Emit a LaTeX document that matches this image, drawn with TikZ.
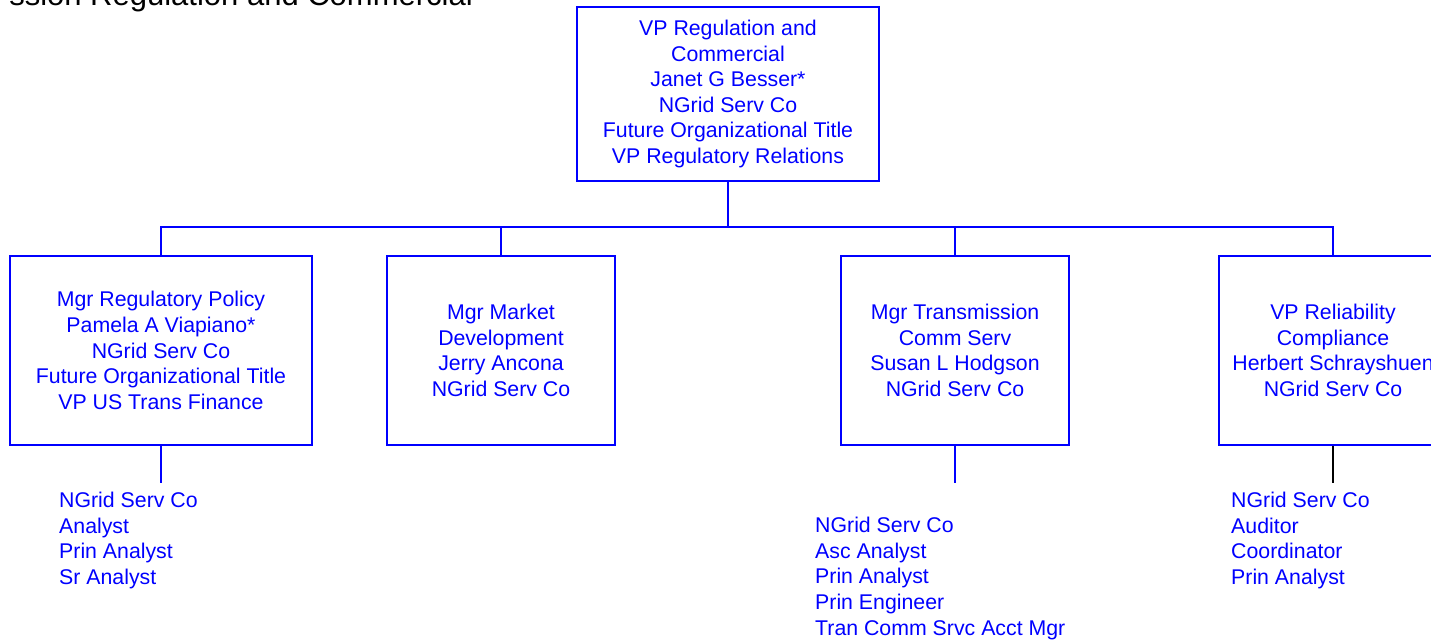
\documentclass[tikz,border=0pt]{standalone}
\usepackage{fontspec}
\setmainfont{Liberation Sans}
\definecolor{orgblue}{RGB}{0,0,255}
\begin{document}
\begin{tikzpicture}[x=1pt,y=-1pt,
  box/.style={rectangle, draw=orgblue, line width=1.8pt, text=orgblue, align=center, inner sep=0pt,
    font=\fontsize{21.3}{25.6}\selectfont},
  list/.style={text=orgblue, align=left, inner sep=0pt, anchor=north west,
    font=\fontsize{21.3}{25.6}\selectfont},
  conn/.style={draw=orgblue, line width=1.8pt},
  connk/.style={draw=black, line width=1.8pt}]
\useasboundingbox (0,0) rectangle (1431,641);
\clip (0,0) rectangle (1431,641);
\node[anchor=base east, inner sep=0pt, font=\fontsize{31}{31}\selectfont] (title) at (473,5) {ssion Regulation and Commercial};

\node[box, minimum width=302pt, minimum height=174pt] (top) at (728,94)
  {VP Regulation and\\Commercial\\Janet G Besser*\\NGrid Serv Co\\Future Organizational Title\\VP Regulatory Relations};

\node[box, minimum width=302pt, minimum height=189pt] (c1) at (161,350.5)
  {Mgr Regulatory Policy\\Pamela A Viapiano*\\NGrid Serv Co\\Future Organizational Title\\VP US Trans Finance};
\node[box, minimum width=228pt, minimum height=189pt] (c2) at (501,350.5)
  {Mgr Market\\Development\\Jerry Ancona\\NGrid Serv Co};
\node[box, minimum width=228pt, minimum height=189pt] (c3) at (955,350.5)
  {Mgr Transmission\\Comm Serv\\Susan L Hodgson\\NGrid Serv Co};
\node[box, minimum width=228pt, minimum height=189pt] (c4) at (1333,350.5)
  {VP Reliability\\Compliance\\Herbert Schrayshuen\\NGrid Serv Co};

\coordinate (bus) at (728,227);
\draw[conn] (top.south) -- (bus);
\draw[conn] (c1.north) |- (bus) -| (c4.north);
\draw[conn] (c2.north) -- (c2.north |- bus);
\draw[conn] (c3.north) -- (c3.north |- bus);

\coordinate (d1) at (161,483);
\coordinate (d3) at (955,483);
\coordinate (d4) at (1333,483);
\draw[conn] (c1.south) -- (d1);
\draw[conn] (c3.south) -- (d3);
\draw[connk] (c4.south) -- (d4);

\node[list] (l1) at (59,492) {NGrid Serv Co\\Analyst\\Prin Analyst\\Sr Analyst};
\node[list] (l3) at (815,517) {NGrid Serv Co\\Asc Analyst\\Prin Analyst\\Prin Engineer\\Tran Comm Srvc Acct Mgr};
\node[list] (l4) at (1231,492) {NGrid Serv Co\\Auditor\\Coordinator\\Prin Analyst};
\end{tikzpicture}
\end{document}
